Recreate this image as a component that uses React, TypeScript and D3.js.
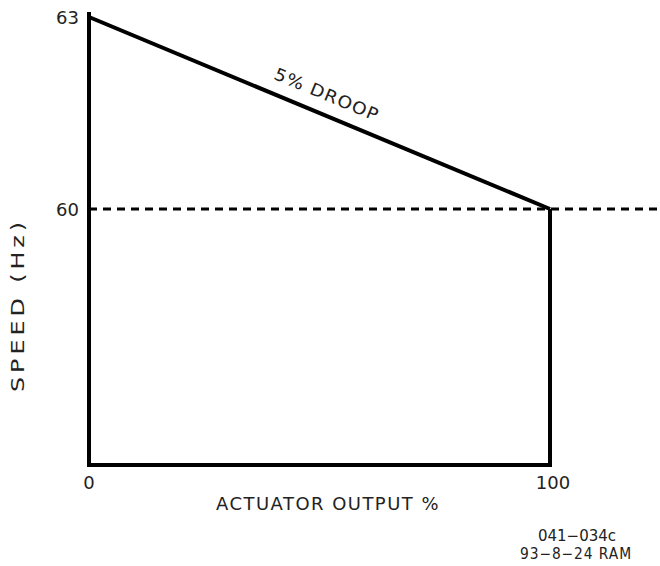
import React from "react";
import * as d3 from "d3";

const droopOutput = [0, 100];
const droopSpeed = [63, 60];
const refSpeed = 60;
const yTicks = [63, 60];
const xTicks = [0, 100];
const yDomain = [56, 63];
const xDomain = [0, 100];

const W = 660;
const H = 566;
const FONT = "DejaVu Sans";

export default function App() {
  const x = d3.scaleLinear().domain(xDomain).range([89, 550]);
  const y = d3.scaleLinear().domain(yDomain).range([465, 17]);
  const line = d3
    .line<number>()
    .x((_, i) => x(droopOutput[i]))
    .y((d) => y(d));
  const p0 = [x(droopOutput[0]), y(droopSpeed[0])];
  const p1 = [x(droopOutput[1]), y(droopSpeed[1])];
  const angle = (Math.atan2(p1[1] - p0[1], p1[0] - p0[0]) * 180) / Math.PI;
  const mid = [(p0[0] + p1[0]) / 2 + 5, (p0[1] + p1[1]) / 2 - 13];
  const txtStyle: React.CSSProperties = {
    fontFamily: FONT,
    fontWeight: "normal",
    fill: "#222",
  };

  return (
    <svg width={W} height={H} style={{ position: "absolute", left: 0, top: 0, background: "#fff" }}>
      {/* reference speed dashed line */}
      <line x1={x(0)} x2={W} y1={y(refSpeed)} y2={y(refSpeed)} stroke="#000" strokeWidth={3} strokeDasharray="8 6" />
      {/* frame */}
      <line x1={x(0)} x2={x(0)} y1={y(63) - 5} y2={y(yDomain[0]) + 2} stroke="#000" strokeWidth={4} />
      <line x1={x(0) - 2} x2={x(100) + 2} y1={y(yDomain[0])} y2={y(yDomain[0])} stroke="#000" strokeWidth={4} />
      <line x1={x(100)} x2={x(100)} y1={y(refSpeed)} y2={y(yDomain[0])} stroke="#000" strokeWidth={4} />
      {/* droop line */}
      <path d={line(droopSpeed) || ""} fill="none" stroke="#000" strokeWidth={4} />
      <text
        x={mid[0]}
        y={mid[1]}
        textAnchor="middle"
        fontSize={17}
        style={txtStyle}
        letterSpacing={1}
        textLength={112}
        lengthAdjust="spacingAndGlyphs"
        transform={`rotate(${angle},${mid[0]},${mid[1]})`}
      >
        5% DROOP
      </text>
      {/* y ticks */}
      {yTicks.map((t) => (
        <text key={t} x={79} y={y(t) + 7} textAnchor="end" fontSize={18} style={txtStyle}>
          {t}
        </text>
      ))}
      {/* x ticks */}
      {xTicks.map((t) => (
        <text key={t} x={x(t) + (t === 100 ? 3 : 0)} y={489} textAnchor="middle" fontSize={18} style={txtStyle}>
          {t}
        </text>
      ))}
      <text
        x={328}
        y={510}
        textAnchor="middle"
        fontSize={18}
        style={txtStyle}
        letterSpacing={1.5}
        textLength={224}
        lengthAdjust="spacingAndGlyphs"
      >
        ACTUATOR OUTPUT %
      </text>
      <text
        x={24}
        y={305}
        textAnchor="middle"
        fontSize={18}
        style={txtStyle}
        letterSpacing={3}
        textLength={174}
        lengthAdjust="spacingAndGlyphs"
        transform="rotate(-90,24,305)"
      >
        SPEED (Hz)
      </text>
      <text x={577} y={541} textAnchor="middle" fontSize={15} style={txtStyle}>
        041−034c
      </text>
      <text
        x={576}
        y={559}
        textAnchor="middle"
        fontSize={15}
        style={txtStyle}
        letterSpacing={1}
        textLength={112}
        lengthAdjust="spacingAndGlyphs"
      >
        93−8−24 RAM
      </text>
    </svg>
  );
}
